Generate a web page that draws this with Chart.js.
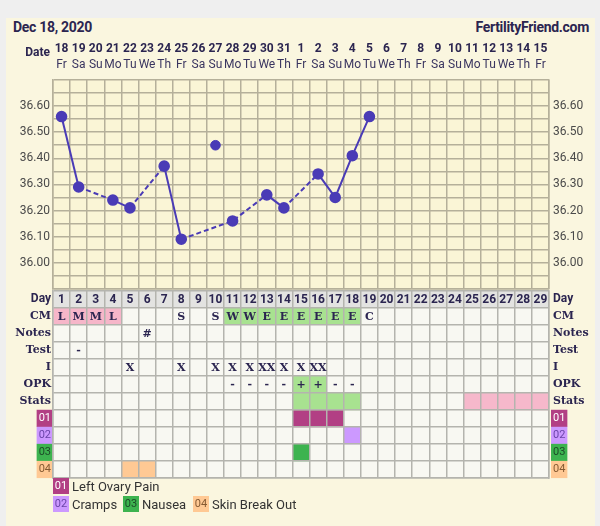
<!DOCTYPE html>
<html>
<head>
<meta charset="utf-8">
<script src="https://cdn.jsdelivr.net/npm/chart.js@4.4.0/dist/chart.umd.min.js"></script>
<style>
  body { margin: 0; background: #efefef; width: 600px; height: 526px; overflow: hidden; position: relative; font-family: Roboto, sans-serif; }
  .card { position: absolute; left: 6px; top: 18px; width: 589px; height: 520px; background: #faf6df; }
  canvas { position: absolute; left: 0; }
  #tempChart { top: 0; }
  #tableChart { top: 280px; }
  .title { position: absolute; top: 19px; font-weight: bold; font-size: 14px; color: #2b2550; letter-spacing: -0.3px; }
  .legend { position: absolute; font-size: 13px; color: #333; display: flex; align-items: center; }
  .badge { display: inline-block; width: 16px; height: 16px; line-height: 16px; text-align: center; font-size: 11px; margin-right: 3px; }
</style>
</head>
<body>
<div class="card"></div>
<div class="title" style="left:13px;">Dec 18, 2020</div>
<div class="title" style="right:11px;">FertilityFriend.com</div>
<canvas id="tempChart" width="600" height="300"></canvas>
<canvas id="tableChart" width="600" height="210"></canvas>
<div class="legend" style="left:53px; top:478px;"><span class="badge" style="background:#b23f84;color:#fff;">01</span>Left Ovary Pain</div>
<div class="legend" style="left:53px; top:496px;"><span class="badge" style="background:#cc99ff;color:#6a44a8;">02</span>Cramps</div>
<div class="legend" style="left:123px; top:496px;"><span class="badge" style="background:#3db34f;color:#1d4a28;">03</span>Nausea</div>
<div class="legend" style="left:193px; top:496px;"><span class="badge" style="background:#ffc994;color:#855a32;">04</span>Skin Break Out</div>
<script>
// cycle days and header
const days = ['1','2','3','4','5','6','7','8','9','10','11','12','13','14','15','16','17','18','19','20','21','22','23','24','25','26','27','28','29'];
const dates = ['18','19','20','21','22','23','24','25','26','27','28','29','30','31','1','2','3','4','5','6','7','8','9','10','11','12','13','14','15'];
const weekdays = ['Fr','Sa','Su','Mo','Tu','We','Th','Fr','Sa','Su','Mo','Tu','We','Th','Fr','Sa','Su','Mo','Tu','We','Th','Fr','Sa','Su','Mo','Tu','We','Th','Fr'];

// temperatures (null = not recorded), day 10 discarded
const temps = [36.56, 36.29, null, 36.24, 36.21, null, 36.37, 36.09, null, null, 36.16, null, 36.26, 36.21, null, 36.34, 36.25, 36.41, 36.56];
const discardedTemps = [null, null, null, null, null, null, null, null, null, 36.45];

// table rows
const rowLabels = ['Day', 'CM', 'Notes', 'Test', 'I', 'OPK', 'Stats', '01', '02', '03', '04'];
const cmText = ['L','M','M','L','','','','S','','S','W','W','E','E','E','E','E','E','C'];
const notesText = ['','','','','','#'];
const testText = ['','-'];
const intercourseText = ['','','','','X','','','X','','X','X','X','XX','X','X','XX'];
const opkText = ['','','','','','','','','','','-','-','-','-','+','+','-','-'];

// coloured cells (days)
const cmPinkDays = [1, 2, 3, 4];
const cmGreenDays = [11, 12, 13, 14, 15, 16, 17, 18];
const opkGreenDays = [15, 16];
const statsGreenDays = [15, 16, 17, 18];
const statsPinkDays = [25, 26, 27, 28, 29];
const symptom1Days = [15, 16, 17];
const symptom2Days = [18];
const symptom3Days = [15];
const symptom4Days = [5, 6];

const lineColor = '#4a3bb6';
const plotGrid = '#b5b09a';
const tableGrid = '#b4b4ae';
const ink = '#2b2550';
const badgeColors = ['#b23f84', '#cc99ff', '#3db34f', '#ffc994'];
const badgeText = ['#ffffff', '#6a44a8', '#1d4a28', '#855a32'];

Chart.defaults.font.family = 'Roboto';

const areaBg = {
  id: 'areaBg',
  beforeDraw(chart, args, opts) {
    const a = chart.chartArea, ctx = chart.ctx;
    ctx.save();
    ctx.fillStyle = opts.color;
    ctx.fillRect(a.left, a.top, a.right - a.left, a.bottom - a.top);
    ctx.restore();
  }
};

const header = {
  id: 'header',
  afterDraw(chart) {
    const ctx = chart.ctx, x = chart.scales.x;
    ctx.save();
    ctx.textAlign = 'center';
    ctx.textBaseline = 'middle';
    dates.forEach((d, i) => {
      ctx.font = 'bold 12px Roboto';
      ctx.fillStyle = ink;
      ctx.fillText(d, x.getPixelForValue(i), 49);
      ctx.font = '12px Roboto';
      ctx.fillStyle = '#3a3560';
      ctx.fillText(weekdays[i], x.getPixelForValue(i), 65);
    });
    ctx.textAlign = 'right';
    ctx.font = 'bold 12px Roboto';
    ctx.fillStyle = ink;
    ctx.fillText('Date', 50, 53);
    ctx.restore();
  }
};

function tempTick(v) {
  const c = Math.round(v * 100);
  return (c % 10 === 0 && c >= 3600 && c <= 3660) ? (c / 100).toFixed(2) : '';
}

// dashed where the line bridges missing days
const gapDash = ctx => (ctx.p0.skip || ctx.p1.skip ? [5, 3] : undefined);

new Chart(document.getElementById('tempChart'), {
  type: 'line',
  data: {
    labels: days,
    datasets: [{
      data: temps,
      borderColor: lineColor,
      backgroundColor: lineColor,
      borderWidth: 2,
      pointRadius: 4.8,
      spanGaps: true,
      segment: { borderDash: gapDash }
    }, {
      data: discardedTemps,
      showLine: false,
      borderColor: lineColor,
      backgroundColor: lineColor,
      pointRadius: 4.8
    }]
  },
  options: {
    responsive: false,
    animation: false,
    layout: { padding: { top: 80, bottom: 10, left: 0, right: 0 } },
    plugins: { legend: { display: false }, tooltip: { enabled: false }, areaBg: { color: '#faf5d6' } },
    scales: {
      x: {
        offset: true,
        grid: { offset: true, color: plotGrid, lineWidth: 1.5, drawTicks: false },
        border: { color: plotGrid, width: 1.5 },
        ticks: { display: false }
      },
      y: {
        min: 35.9, max: 36.7,
        afterFit: s => { s.width = 53; },
        grid: { color: plotGrid, lineWidth: 1.5, drawTicks: false },
        border: { color: plotGrid, width: 1.5 },
        ticks: { stepSize: 0.05, autoSkip: false, callback: tempTick, padding: 3, color: '#4a4a4a', font: { size: 12 } }
      },
      y2: {
        position: 'right',
        min: 35.9, max: 36.7,
        afterFit: s => { s.width = 51; },
        grid: { display: false, drawTicks: false },
        border: { color: plotGrid, width: 1.5 },
        ticks: { stepSize: 0.05, autoSkip: false, callback: tempTick, padding: 4, color: '#4a4a4a', font: { size: 12 } }
      }
    }
  },
  plugins: [areaBg, header]
});

const cellSets = [
  { row: 'Day', days: days.map(Number), color: '#e3e3e1' },
  { row: 'CM', days: cmPinkDays, color: '#f6b6c9' },
  { row: 'CM', days: cmGreenDays, color: '#a8e290' },
  { row: 'OPK', days: opkGreenDays, color: '#a8e290' },
  { row: 'Stats', days: statsGreenDays, color: '#a8e290' },
  { row: 'Stats', days: statsPinkDays, color: '#f6b8cb' },
  { row: '01', days: symptom1Days, color: badgeColors[0] },
  { row: '02', days: symptom2Days, color: badgeColors[1] },
  { row: '03', days: symptom3Days, color: badgeColors[2] },
  { row: '04', days: symptom4Days, color: badgeColors[3] }
];

const textRows = [
  { row: 'Day', texts: days, font: 'bold 12px Roboto' },
  { row: 'CM', texts: cmText, font: 'bold 11px "DejaVu Serif"' },
  { row: 'Notes', texts: notesText, font: 'bold 11px "DejaVu Serif"' },
  { row: 'Test', texts: testText, font: 'bold 11px "DejaVu Serif"' },
  { row: 'I', texts: intercourseText, font: 'bold 11px "DejaVu Serif"' },
  { row: 'OPK', texts: opkText, font: 'bold 11px "DejaVu Serif"' }
];

const cellText = {
  id: 'cellText',
  afterDraw(chart) {
    const ctx = chart.ctx, x = chart.scales.x, y = chart.scales.y;
    ctx.save();
    ctx.fillStyle = ink;
    ctx.textAlign = 'center';
    ctx.textBaseline = 'middle';
    textRows.forEach(r => {
      ctx.font = r.font;
      const py = y.getPixelForValue(rowLabels.indexOf(r.row));
      r.texts.forEach((t, i) => {
        if (t) ctx.fillText(t, x.getPixelForValue(i + 0.5), py + 1);
      });
    });
    ctx.restore();
  }
};

const rowTicks = {
  autoSkip: false,
  color: ctx => (ctx.index >= 7 ? badgeText[ctx.index - 7] : ink),
  font: ctx => (ctx.index === 0 ? { family: 'Roboto', size: 12, weight: 'bold' }
    : ctx.index >= 7 ? { family: 'Roboto', size: 11, weight: 'normal' }
    : { family: 'DejaVu Serif', size: 11, weight: 'bold' }),
  showLabelBackdrop: ctx => ctx.index >= 7,
  backdropColor: ctx => (ctx.index >= 7 ? badgeColors[ctx.index - 7] : 'transparent'),
  backdropPadding: { top: 2, bottom: 2, left: 2, right: 2 }
};

new Chart(document.getElementById('tableChart'), {
  type: 'bar',
  data: {
    datasets: cellSets.map(s => ({
      data: s.days.map(d => ({ x: [d - 1, d], y: s.row })),
      backgroundColor: s.color,
      borderWidth: 0,
      barPercentage: 1,
      categoryPercentage: 1,
      grouped: false
    }))
  },
  options: {
    indexAxis: 'y',
    responsive: false,
    animation: false,
    layout: { padding: { top: 9, bottom: 12, left: 0, right: 0 } },
    plugins: { legend: { display: false }, tooltip: { enabled: false }, areaBg: { color: '#f8f8f2' } },
    scales: {
      x: {
        type: 'linear', min: 0, max: 29,
        grid: { color: tableGrid, lineWidth: 1.5, drawTicks: false, z: 1 },
        border: { color: tableGrid, width: 1.5, z: 1 },
        ticks: { display: false, stepSize: 1, autoSkip: false }
      },
      y: {
        type: 'category', labels: rowLabels, offset: true,
        afterFit: s => { s.width = 53; },
        grid: { offset: true, color: tableGrid, lineWidth: 1.5, drawTicks: false, z: 1 },
        border: { color: tableGrid, width: 1.5, z: 1 },
        ticks: Object.assign({ padding: 2 }, rowTicks)
      },
      y2: {
        type: 'category', labels: rowLabels, offset: true, position: 'right',
        afterFit: s => { s.width = 51; },
        grid: { display: false, drawTicks: false },
        border: { color: tableGrid, width: 1.5, z: 1 },
        ticks: Object.assign({ padding: 4 }, rowTicks)
      }
    }
  },
  plugins: [areaBg, cellText]
});
</script>
</body>
</html>
